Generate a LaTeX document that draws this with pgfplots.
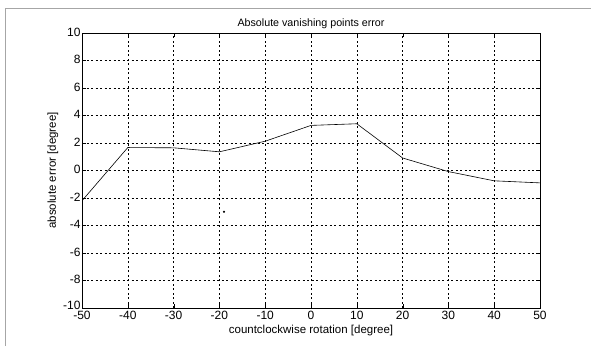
\documentclass[border=0pt]{standalone}
\usepackage{fontspec}
\setmainfont{Liberation Sans}
\usepackage{pgfplots}
\pgfplotsset{compat=1.18}
\begin{document}
\begin{tikzpicture}
\path[use as bounding box] (-82pt,-38pt) rectangle (509pt,308pt);
\draw[gray!70, line width=0.6pt] (-77pt,-38pt) -- (-77pt,300pt) -- (509pt,300pt);
\begin{axis}[
  at={(0pt,0pt)}, anchor=south west,
  scale only axis, width=458pt, height=275pt,
  xmin=-50, xmax=50, ymin=-10, ymax=10,
  xtick={-50,-40,...,50}, ytick={-10,-8,...,10},
  tick align=inside, major tick length=4pt,
  grid=major,
  major grid style={black, line width=0.5pt, dash pattern=on 2pt off 2.5pt},
  axis line style={black, line width=0.8pt},
  tick style={black},
  tick label style={font=\fontsize{12}{14}\selectfont},
  label style={font=\fontsize{11.5}{13}\selectfont},
  title style={font=\fontsize{10.7}{13}\selectfont, yshift=-5pt},
  /pgf/number format/assume math mode=true,
  title={Absolute vanishing points error},
  xlabel={countclockwise rotation [degree]},
  ylabel={absolute error [degree]},
  xlabel style={yshift=2pt},
  ylabel style={yshift=-2pt},
  xticklabel style={yshift=0pt},
  yticklabel style={xshift=2pt, yshift=1pt},
  yticklabel={\ifdim\tick pt<-9pt\raisebox{3pt}{\pgfmathprintnumber{\tick}}\else\pgfmathprintnumber{\tick}\fi},
  /pgf/number format/.cd, fixed, 1000 sep={},
]
\addplot[black, line width=0.6pt] coordinates {
(-50,-2.2) (-40,1.67) (-30,1.65) (-20,1.36) (-10,2.13) (0,3.28) (10,3.4) (20,0.91) (30,-0.08) (40,-0.75) (50,-0.9)
};
\addplot[only marks, mark=*, mark size=0.8pt, black] coordinates {(-19,-3)};
\end{axis}
\end{tikzpicture}
\end{document}
